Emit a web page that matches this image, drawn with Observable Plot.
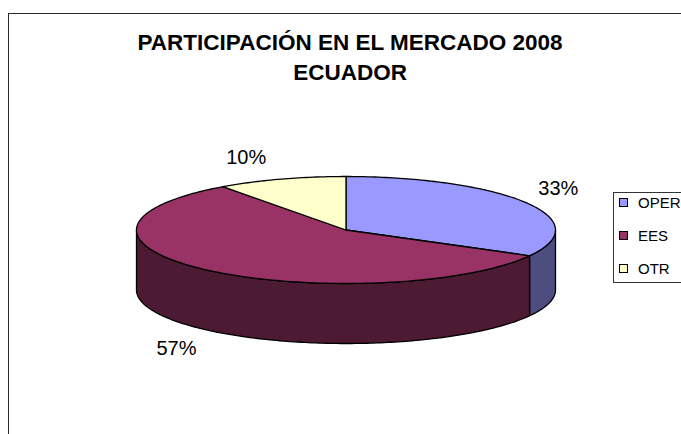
<!DOCTYPE html>
<html><head><meta charset="utf-8">
<script src="https://cdn.jsdelivr.net/npm/d3@7"></script>
<script src="https://cdn.jsdelivr.net/npm/@observablehq/plot@0.6"></script>
<style>
body{margin:0;width:681px;height:434px;overflow:hidden;background:#fff;font-family:"Liberation Sans",Arial,sans-serif}
#chart{position:absolute;left:0;top:0}
#frame{position:absolute;left:8px;top:13px;width:800px;height:600px;border:1.5px solid #2a2a2a}
#legend{position:absolute;left:613px;top:192px;width:120px;height:89px;border:1px solid #333;background:#fff}
.item{position:absolute;left:5px;font-size:15px;line-height:17px;color:#000;white-space:nowrap}
.sw{display:inline-block;width:7px;height:7px;border:1px solid #000;margin-right:10px;vertical-align:1px}
</style></head>
<body>
<div id="chart"></div>
<div id="frame"></div>
<div id="legend"></div>
<script>
// ---- data ----
const categories = ["OPER", "EES", "OTR"];
const values = [33, 57, 10];
const pctLabels = ["33%", "57%", "10%"];
const topColors = ["#9999FF", "#993366", "#FFFFCC"];
const sideColors = ["#4D4D80", "#4D1A33", "#80805F"];
const titleLines = ["PARTICIPACIÓN EN EL MERCADO 2008", "ECUADOR"];

// ---- layout ----
const W = 681, H = 434;
const cx = 345.5, cy = 229.5, rx = 209.5, ry = 53.5, depth = 60;
const labelNudge = {OPER: [32, -14], EES: [-31, 18], OTR: [-35, -22]};

const total = d3.sum(values);
const pt = (a, dz = 0) => [cx + rx * Math.sin(a), cy - ry * Math.cos(a) + dz];
const arc = (a0, a1, dz = 0) => {
  const n = Math.max(2, Math.ceil(Math.abs(a1 - a0) / (Math.PI / 180)));
  return d3.range(n + 1).map(i => pt(a0 + (a1 - a0) * i / n, dz));
};

let acc = 0;
const slices = categories.map((c, i) => {
  const a0 = acc / total * 2 * Math.PI;
  acc += values[i];
  const a1 = acc / total * 2 * Math.PI;
  return {c, i, a0, a1};
});

const topPts = [], sidePts = [], labelPts = [];
for (const s of slices) {
  const poly = [[cx, cy], ...arc(s.a0, s.a1), [cx, cy]];
  poly.forEach(([x, y], k) => topPts.push({id: s.c, k, x, y, fill: topColors[s.i]}));
  const lo = Math.max(s.a0, Math.PI / 2), hi = Math.min(s.a1, 3 * Math.PI / 2);
  if (hi > lo) {
    const sp = [...arc(lo, hi), ...arc(hi, lo, depth)];
    sp.push(sp[0]);
    sp.forEach(([x, y], k) => sidePts.push({id: s.c, k, x, y, fill: sideColors[s.i]}));
  }
  const mid = (s.a0 + s.a1) / 2;
  const front = Math.cos(mid) < 0;
  const [ax, ay] = pt(mid, front ? depth : 0);
  const [nx, ny] = labelNudge[s.c];
  labelPts.push({x: ax + nx, y: ay + ny, text: pctLabels[s.i]});
}

const plot = Plot.plot({
  width: W, height: H,
  margin: 0,
  style: {background: "transparent", overflow: "visible"},
  x: {domain: [0, W], range: [0, W], axis: null},
  y: {domain: [0, H], range: [0, H], axis: null},
  color: {type: "identity"},
  marks: [
    Plot.line(sidePts, {x: "x", y: "y", z: "id", fill: "fill", stroke: "#000", strokeWidth: 1.3, curve: "linear"}),
    Plot.line(topPts, {x: "x", y: "y", z: "id", fill: "fill", stroke: "#000", strokeWidth: 1.3, curve: "linear"}),
    Plot.text(labelPts, {x: "x", y: "y", text: "text", fontSize: 20, fill: "#000", fontFamily: "Liberation Sans, Arial, sans-serif", textAnchor: "middle"}),
    Plot.text([titleLines.join("\n")], {frameAnchor: "top", dx: 9, dy: 29, text: d => d, lineAnchor: "top", lineHeight: 1.3, fontSize: 22.5, fontWeight: "bold", fill: "#000", fontFamily: "Liberation Sans, Arial, sans-serif"})
  ]
});
document.getElementById("chart").appendChild(plot);

// legend
const lg = document.getElementById("legend");
const tops = [1, 34, 67];
categories.forEach((c, i) => {
  const d = document.createElement("div");
  d.className = "item";
  d.style.top = tops[i] + "px";
  d.innerHTML = `<span class="sw" style="background:${topColors[i]}"></span>${c}`;
  lg.appendChild(d);
});
</script>
</body></html>
